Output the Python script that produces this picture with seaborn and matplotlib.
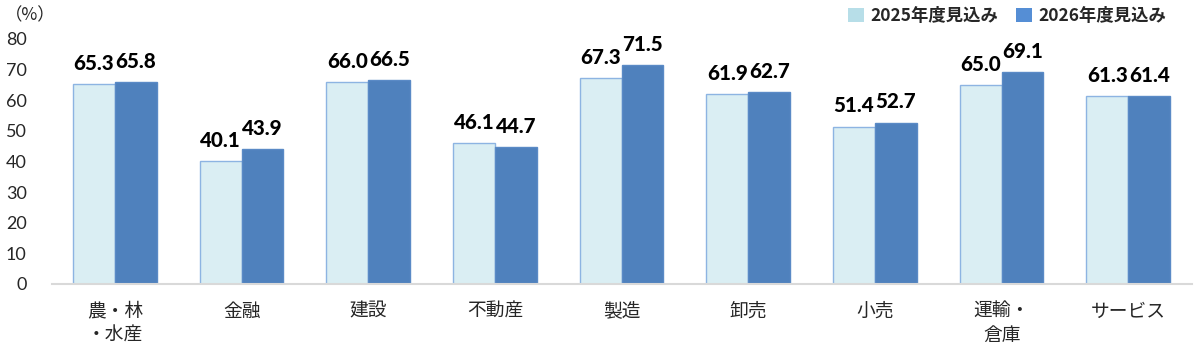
import matplotlib
matplotlib.use("Agg")
import matplotlib.pyplot as plt
import seaborn as sns
import pandas as pd
from matplotlib.patches import Patch

categories = ["農・林\n・水産", "金融", "建設", "不動産", "製造", "卸売", "小売", "運輸・\n倉庫", "サービス"]
series_names = ["2025年度見込み", "2026年度見込み"]
values_2025 = [65.3, 40.1, 66.0, 46.1, 67.3, 61.9, 51.4, 65.0, 61.3]
values_2026 = [65.8, 43.9, 66.5, 44.7, 71.5, 62.7, 52.7, 69.1, 61.4]
yticks = [0, 10, 20, 30, 40, 50, 60, 70, 80]

sns.set_theme(style="white")
plt.rcParams['font.family'] = ['Noto Sans CJK JP', 'DejaVu Sans']

df = pd.DataFrame({
    "cat": categories * 2,
    "series": [series_names[0]] * len(categories) + [series_names[1]] * len(categories),
    "value": values_2025 + values_2026,
})

fig = plt.figure(figsize=(12, 3.54), dpi=100)
ax = fig.add_axes([0.043, 0.198, 0.950, 0.692])

fills = ["#DAEEF3", "#4F81BD"]
edges = ["#8DB4E2", "#5A8AC6"]
sns.barplot(data=df, x="cat", y="value", hue="series", palette=fills,
            width=0.66, ax=ax, legend=False, saturation=1)

for i, cont in enumerate(ax.containers):
    for p in cont:
        p.set_edgecolor(edges[i])
        p.set_linewidth(1.0)
    ax.bar_label(cont, fmt="%.1f", padding=8, fontsize=14.8, fontweight="black",
                 color="#000000", fontfamily=['Lato', 'DejaVu Sans'])

ax.set_ylim(0, 80)
ax.set_yticks(yticks)
ax.set_xlim(-0.5, len(categories) - 0.5)
ax.set_xlabel("")
ax.set_ylabel("")
ax.tick_params(axis="y", length=0, labelsize=13, pad=18)
ax.tick_params(axis="x", length=0, labelsize=13.5, pad=12)
for lbl in ax.get_yticklabels():
    lbl.set_fontfamily(['Lato', 'DejaVu Sans'])
for s in ["top", "right", "left"]:
    ax.spines[s].set_visible(False)
ax.spines["bottom"].set_color("#D9D9D9")
ax.spines["bottom"].set_linewidth(1.5)
ax.grid(False)

fig.text(0.004, 0.957, "（%）", fontsize=12.5, ha="left", va="center")

handles = [Patch(facecolor="#B7DEE8", edgecolor="none", label=series_names[0]),
           Patch(facecolor="#558ED5", edgecolor="none", label=series_names[1])]
leg = fig.legend(handles=handles, loc="center right", bbox_to_anchor=(0.985, 0.955), ncol=2,
                 frameon=False, prop={'family': ['Noto Sans CJK JP', 'DejaVu Sans'], 'weight': 'bold', 'size': 12.5},
                 handlelength=0.9, handleheight=0.9, handletextpad=0.4, columnspacing=1.0)

fig.savefig("out.png", dpi=100)
